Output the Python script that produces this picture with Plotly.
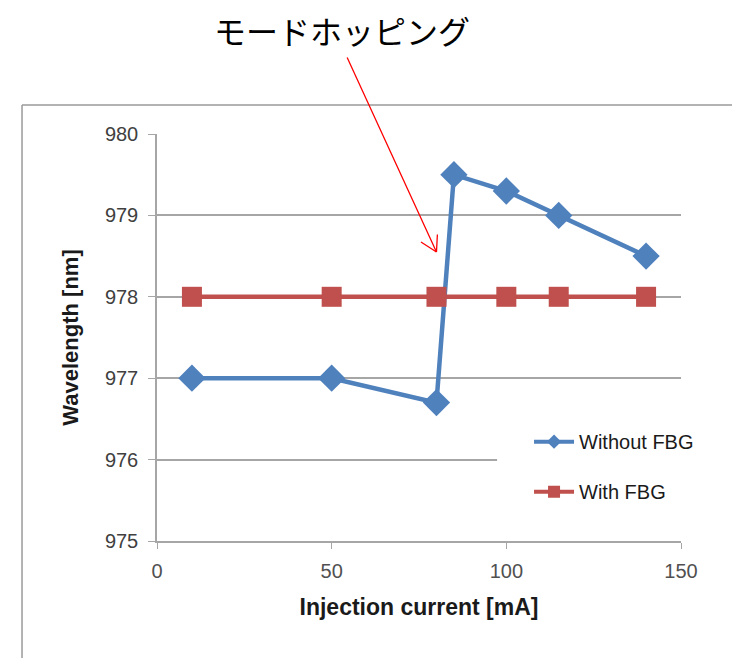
import plotly.graph_objects as go

# Data
current_without = [10, 50, 80, 85, 100, 115, 140]
wl_without = [977.0, 977.0, 976.7, 979.5, 979.3, 979.0, 978.5]
current_with = [10, 50, 80, 100, 115, 140]
wl_with = [978.0, 978.0, 978.0, 978.0, 978.0, 978.0]
x_ticks = [0, 50, 100, 150]
y_ticks = [975, 976, 977, 978, 979, 980]

BLUE = "#4F81BD"
RED = "#C0504D"
GRID = "#A6A6A6"
FONT = "Liberation Sans"

fig = go.Figure()
fig.add_trace(go.Scatter(
    x=current_without, y=wl_without, mode="lines+markers", name="Without FBG",
    line=dict(color=BLUE, width=4.5),
    marker=dict(symbol="diamond", size=21, color=BLUE),
    cliponaxis=False, showlegend=False,
))
fig.add_trace(go.Scatter(
    x=current_with, y=wl_with, mode="lines+markers", name="With FBG",
    line=dict(color=RED, width=4.5),
    marker=dict(symbol="square", size=20, color=RED),
    cliponaxis=False, showlegend=False,
))
# legend entries (smaller markers, like the reference legend)
fig.add_trace(go.Scatter(
    x=[None], y=[None], mode="lines+markers", name="Without FBG", legendgroup="a",
    line=dict(color=BLUE, width=4), marker=dict(symbol="diamond", size=11, color=BLUE),
))
fig.add_trace(go.Scatter(
    x=[None], y=[None], mode="lines+markers", name="With FBG", legendgroup="b",
    line=dict(color=RED, width=4), marker=dict(symbol="square", size=12, color=RED),
))

# Mask gridline behind legend
fig.add_shape(type="rect", xref="paper", yref="y", x0=0.649, x1=1.01,
              y0=975.92, y1=976.08, fillcolor="white", line=dict(width=0),
              layer="above")

# Chart frame (left and top)
fig.add_shape(type="line", xref="paper", yref="paper", x0=-0.2576, x1=1.2,
              y0=1.0713, y1=1.0713, line=dict(color="#9A9A9A", width=1.5))
fig.add_shape(type="line", xref="paper", yref="paper", x0=-0.2576, x1=-0.2576,
              y0=1.0713, y1=-0.35, line=dict(color="#9A9A9A", width=1.5))

# Title text
fig.add_annotation(text="モードホッピング", xref="paper", yref="paper",
                   x=0.353, y=1.2555, xanchor="center", yanchor="middle", showarrow=False,
                   font=dict(family="Noto Sans CJK JP", size=32, color="black"))

# Arrow: main line and open head barbs
tip_x, tip_y = 80, 978.55
fig.add_annotation(x=tip_x, y=tip_y, xref="x", yref="y", text="", showarrow=True,
                   arrowhead=0, arrowwidth=1.3, arrowcolor="red", ax=-90, ay=-196,
                   standoff=0)
fig.add_annotation(x=tip_x, y=tip_y, xref="x", yref="y", text="", showarrow=True,
                   arrowhead=0, arrowwidth=1.3, arrowcolor="red", ax=-17, ay=-11,
                   standoff=0)
fig.add_annotation(x=tip_x, y=tip_y, xref="x", yref="y", text="", showarrow=True,
                   arrowhead=0, arrowwidth=1.3, arrowcolor="red", ax=1, ay=-19,
                   standoff=0)

fig.update_layout(
    width=740, height=658,
    margin=dict(l=149, r=67, t=126, b=125),
    paper_bgcolor="white", plot_bgcolor="white",
    showlegend=True,
    legend=dict(x=0.71, y=0.292, xanchor="left", yanchor="top",
                bgcolor="rgba(0,0,0,0)", font=dict(family=FONT, size=20, color="#1a1a1a"),
                tracegroupgap=21, itemwidth=40),
    font=dict(family=FONT, color="#333333"),
)
fig.update_xaxes(
    range=[0, 150], tickvals=x_ticks, showgrid=False, zeroline=False,
    showline=True, linecolor=GRID, linewidth=1.5,
    ticks="outside", ticklen=6, tickcolor=GRID, ticklabelstandoff=5,
    tickfont=dict(family=FONT, size=20, color="#505050"),
    title=dict(text="<b>Injection current [mA]</b>", font=dict(family=FONT, size=23, color="#1a1a1a"), standoff=18),
)
fig.update_yaxes(
    range=[975, 980], tickvals=y_ticks, showgrid=True, gridcolor=GRID, gridwidth=1.5,
    zeroline=False, showline=True, linecolor=GRID, linewidth=1.5,
    ticks="outside", ticklen=7, tickcolor=GRID, ticklabelstandoff=6,
    tickfont=dict(family=FONT, size=20, color="#404040"),
    title=dict(text="<b>Wavelength [nm]</b>", font=dict(family=FONT, size=22, color="#1a1a1a"), standoff=20),
)

fig.write_html("out.html")
